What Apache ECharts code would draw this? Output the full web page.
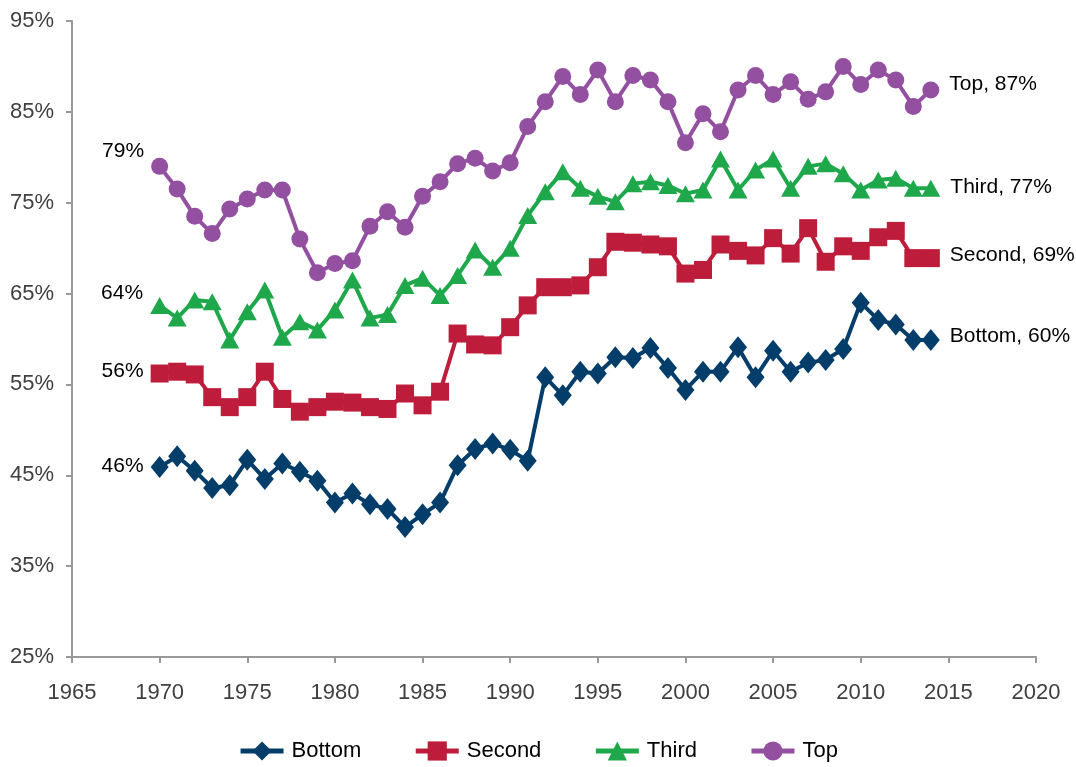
<!DOCTYPE html>
<html>
<head>
<meta charset="utf-8">
<script src="https://cdn.jsdelivr.net/npm/echarts@6/dist/echarts.min.js"></script>
<style>
  html, body { margin: 0; padding: 0; background: #fff; }
  #chart { width: 1076px; height: 767px; }
</style>
</head>
<body>
<div id="chart"></div>
<script>
// years 1970..2014
var years = [];
for (var y = 1970; y <= 2014; y++) years.push(y);

var bottomVals = [45.9, 47.1, 45.5, 43.6, 43.9, 46.7, 44.6, 46.3, 45.4, 44.4,
  42.0, 43.0, 41.8, 41.3, 39.3, 40.7, 42.0, 46.1, 47.9, 48.5,
  47.8, 46.6, 55.8, 53.8, 56.4, 56.2, 58.0, 57.9, 59.0, 56.8,
  54.4, 56.4, 56.4, 59.1, 55.8, 58.7, 56.4, 57.4, 57.7, 58.9,
  64.0, 62.1, 61.6, 59.9, 59.9];
var secondVals = [56.2, 56.4, 56.1, 53.6, 52.5, 53.6, 56.4, 53.4, 52.0, 52.5,
  53.1, 53.0, 52.5, 52.3, 54.0, 52.7, 54.2, 60.6, 59.4, 59.3,
  61.3, 63.7, 65.7, 65.7, 65.9, 67.9, 70.7, 70.6, 70.4, 70.2,
  67.2, 67.6, 70.4, 69.7, 69.2, 71.1, 69.4, 72.2, 68.5, 70.2,
  69.7, 71.2, 71.9, 68.9, 68.9];
var thirdVals = [63.7, 62.3, 64.3, 64.1, 59.9, 63.0, 65.4, 60.2, 61.9, 61.0,
  63.2, 66.5, 62.3, 62.7, 65.9, 66.7, 64.8, 67.0, 69.8, 67.9,
  70.0, 73.6, 76.2, 78.4, 76.6, 75.7, 75.1, 77.1, 77.3, 76.9,
  76.0, 76.4, 79.8, 76.4, 78.6, 79.8, 76.6, 79.0, 79.3, 78.2,
  76.4, 77.5, 77.7, 76.6, 76.6];
var topVals = [79.0, 76.5, 73.5, 71.6, 74.3, 75.4, 76.4, 76.4, 71.0, 67.3,
  68.3, 68.6, 72.4, 74.0, 72.3, 75.7, 77.3, 79.3, 79.9, 78.5,
  79.4, 83.4, 86.1, 88.9, 86.9, 89.6, 86.1, 89.0, 88.5, 86.1,
  81.6, 84.8, 82.8, 87.4, 89.0, 86.9, 88.3, 86.4, 87.2, 90.0,
  88.0, 89.6, 88.5, 85.6, 87.4];

var yTicks = [25, 35, 45, 55, 65, 75, 85, 95];

var FONT = "'Liberation Sans', Arial, sans-serif";

function buildData(vals, name, leftOffset, rightOffset) {
  return vals.map(function (v, i) {
    var item = { value: [years[i], v] };
    if (i === 0) {
      item.label = {
        show: true, position: 'left', distance: 7, offset: [0, leftOffset],
        formatter: Math.round(v) + '%'
      };
    } else if (i === vals.length - 1) {
      item.label = {
        show: true, position: 'right', distance: 10, offset: [0, rightOffset],
        formatter: name + ', ' + Math.round(v) + '%'
      };
    }
    return item;
  });
}

function makeSeries(name, vals, color, symbol, size, lo, ro) {
  return {
    name: name,
    type: 'line',
    data: buildData(vals, name, lo, ro),
    symbol: symbol,
    symbolSize: size,
    showAllSymbol: true,
    color: color,
    lineStyle: { width: 4, color: color },
    itemStyle: { color: color },
    label: { show: false, color: '#000', fontSize: 21, fontFamily: FONT },
    emphasis: { disabled: true },
    z: 2
  };
}

var myChart = echarts.init(document.getElementById('chart'));
var option = {
  animation: false,
  backgroundColor: '#fff',
  textStyle: { fontFamily: FONT },
  grid: { left: 72, right: 40, top: 21, bottom: 110, containLabel: false },
  legend: {
    bottom: 0,
    left: 'center',
    itemWidth: 43,
    itemHeight: 24,
    itemGap: 52,
    lineStyle: { width: 5 },
    textStyle: { fontSize: 22, color: '#000', fontFamily: FONT, padding: [0, 0, 0, 3] },
    data: ['Bottom', 'Second', 'Third', 'Top']
  },
  xAxis: {
    type: 'value',
    min: 1965,
    max: 2020,
    interval: 5,
    axisLine: { lineStyle: { color: '#999', width: 2 } },
    axisTick: { show: true, length: 6, lineStyle: { color: '#999', width: 2 } },
    axisLabel: { color: '#404040', fontSize: 22, margin: 25, fontFamily: FONT,
      formatter: function (v) { return String(v); } },
    splitLine: { show: false }
  },
  yAxis: {
    type: 'value',
    min: 25,
    max: 95,
    axisLine: { show: true, lineStyle: { color: '#999', width: 2 } },
    axisTick: { show: true, length: 6, customValues: yTicks, lineStyle: { color: '#999', width: 2 } },
    axisLabel: { color: '#404040', fontSize: 22, margin: 18, fontFamily: FONT,
      customValues: yTicks,
      formatter: function (v) { return v + '%'; } },
    splitLine: { show: false }
  },
  series: [
    makeSeries('Bottom', bottomVals, '#033d6a', 'diamond', [18, 22], -1, -4),
    makeSeries('Second', secondVals, '#be1c3b', 'rect', 18, -2, -3),
    makeSeries('Third', thirdVals, '#1ea84b', 'triangle', [19, 17], -12, -1),
    makeSeries('Top', topVals, '#9350a1', 'circle', 17, -15, -6)
  ]
};
myChart.setOption(option);
</script>
</body>
</html>
